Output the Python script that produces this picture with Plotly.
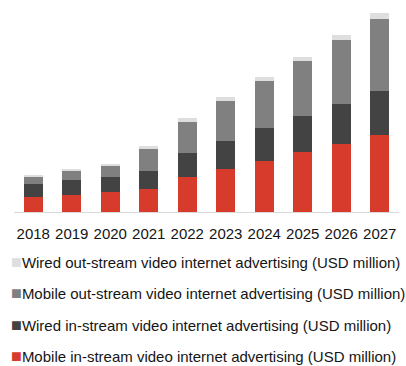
import plotly.graph_objects as go

# Forecast of video internet advertising by segment, 2018-2027
years = ["2018", "2019", "2020", "2021", "2022", "2023", "2024", "2025", "2026", "2027"]

mobile_in_stream = [14.7, 17.3, 19.7, 23.3, 35.0, 42.7, 51.0, 59.7, 68.3, 77.3]
wired_in_stream = [13.0, 14.4, 15.0, 18.0, 23.7, 28.0, 33.0, 36.3, 40.0, 43.4]
mobile_out_stream = [7.6, 9.3, 12.0, 21.7, 31.6, 40.3, 47.0, 54.7, 63.7, 72.0]
wired_out_stream = [1.7, 1.7, 1.6, 3.0, 4.0, 3.7, 4.0, 4.6, 5.3, 6.0]

series = [
    ("Mobile in-stream video internet advertising (USD million)", mobile_in_stream, "#d63b2b"),
    ("Wired in-stream video internet advertising (USD million)", wired_in_stream, "#434343"),
    ("Mobile out-stream video internet advertising (USD million)", mobile_out_stream, "#808080"),
    ("Wired out-stream video internet advertising (USD million)", wired_out_stream, "#dedede"),
]

FONT = "Liberation Sans Narrow, Arial Narrow, Arial, sans-serif"
FONT_SIZE = 15

W, H = 406, 366
M_L, M_R, M_T, M_B = 14, 7, 10, 154
plot_h = H - M_T - M_B

fig = go.Figure()
for name, vals, color in series:
    fig.add_trace(go.Bar(
        x=years, y=vals, name=name, marker_color=color,
        marker_line_width=0, showlegend=False,
    ))

# Legend rows (top to bottom): swatch glyph + label
legend_rows = list(reversed(series))
row_y_px = [261.5, 293, 324.5, 356]
for (name, vals, color), py in zip(legend_rows, row_y_px):
    fig.add_annotation(
        text=f"<span style='color:{color};font-size:18px'>■</span>{name}",
        xref="paper", yref="paper",
        x=(9 - M_L) / (W - M_L - M_R), y=(H - M_B - py) / plot_h,
        xanchor="left", yanchor="middle", showarrow=False,
        font=dict(family=FONT, size=FONT_SIZE, color="#151515"),
    )

fig.update_layout(
    width=W, height=H,
    margin=dict(l=M_L, r=M_R, t=M_T, b=M_B),
    barmode="stack", bargap=0.5,
    plot_bgcolor="white", paper_bgcolor="white",
    showlegend=False,
    xaxis=dict(
        showline=True, linecolor="#d9d9d9", linewidth=1,
        showgrid=False, ticks="", zeroline=False,
        ticklabelstandoff=8,
        tickfont=dict(family=FONT, size=FONT_SIZE, color="#151515"),
    ),
    yaxis=dict(visible=False, range=[0, plot_h]),
)

fig.write_html("out.html")
